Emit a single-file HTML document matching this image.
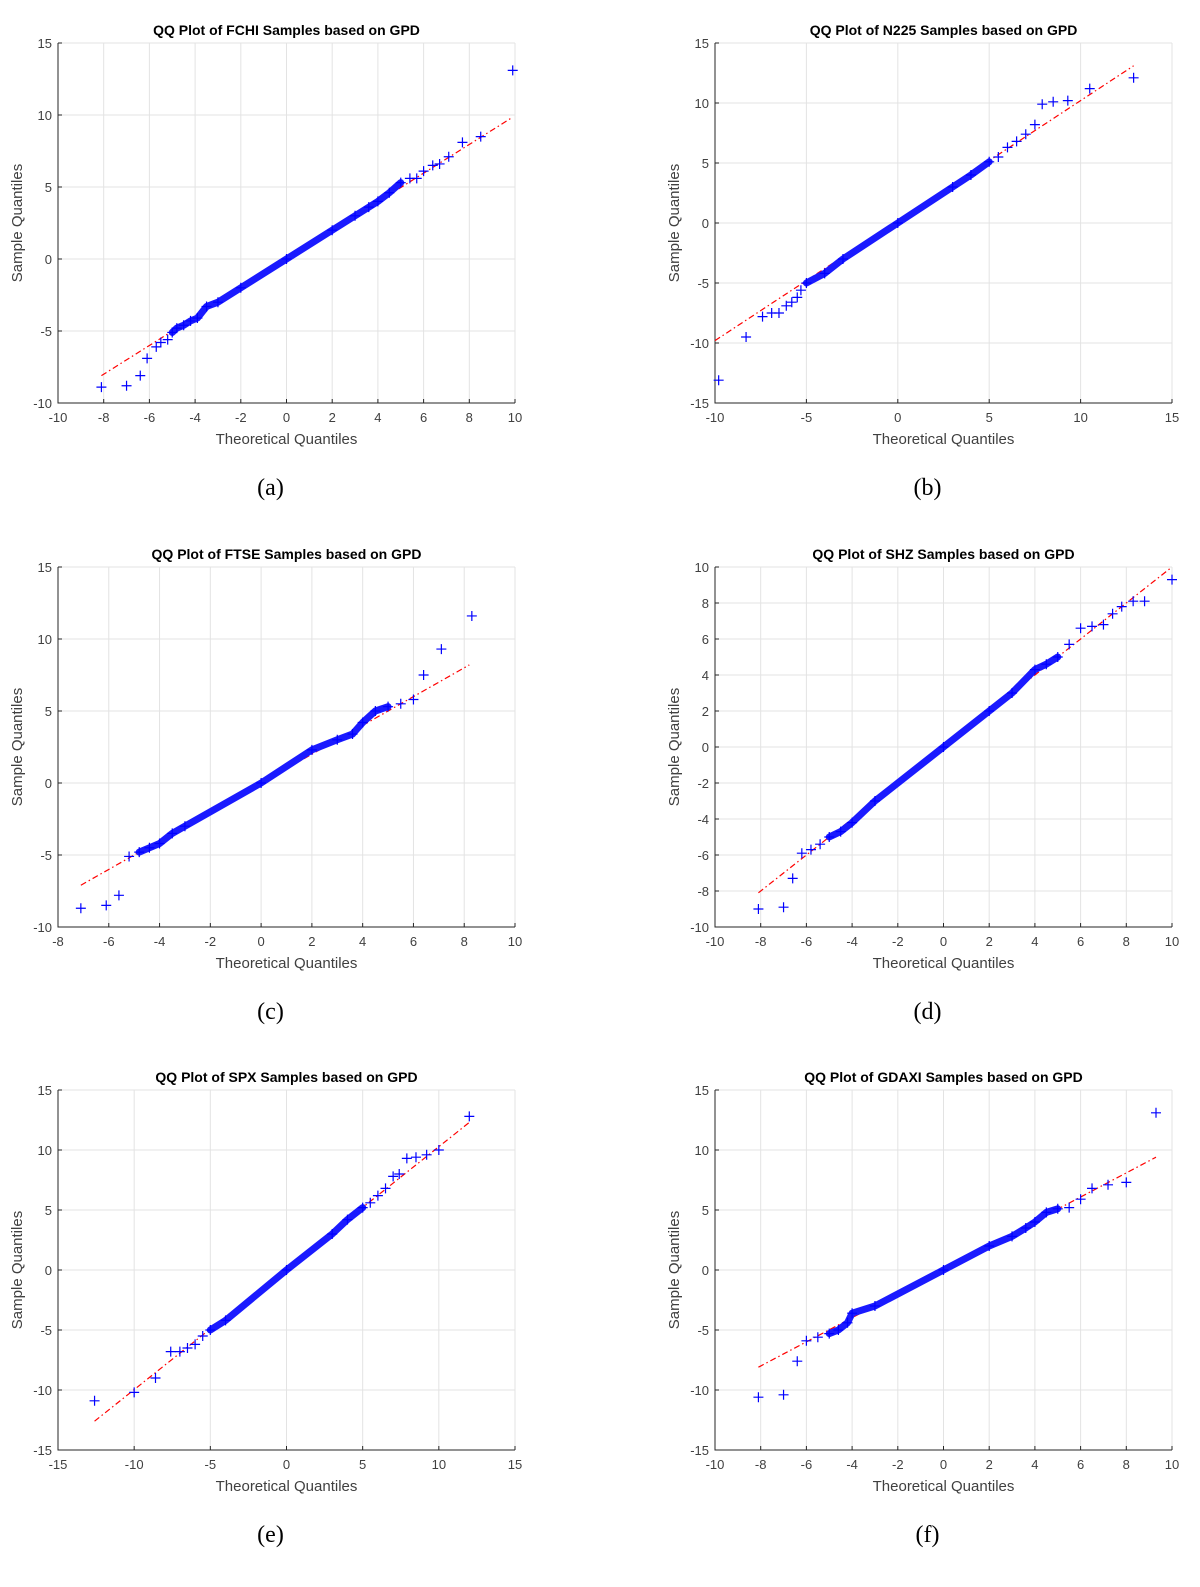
<!DOCTYPE html>
<html><head><meta charset="utf-8"><style>
body{margin:0;background:#fff;width:1200px;height:1587px;overflow:hidden}
svg{display:block}
</style></head><body>
<svg id="fig" width="1200" height="1587" font-family="'Liberation Sans', sans-serif"></svg>
<script>
const titles=["QQ Plot of FCHI Samples based on GPD","QQ Plot of N225 Samples based on GPD","QQ Plot of FTSE Samples based on GPD","QQ Plot of SHZ Samples based on GPD","QQ Plot of SPX Samples based on GPD","QQ Plot of GDAXI Samples based on GPD"];
const captions=["(a)","(b)","(c)","(d)","(e)","(f)"];
const xTicks=[[-10,-8,-6,-4,-2,0,2,4,6,8,10],[-10,-5,0,5,10,15],[-8,-6,-4,-2,0,2,4,6,8,10],[-10,-8,-6,-4,-2,0,2,4,6,8,10],[-15,-10,-5,0,5,10,15],[-10,-8,-6,-4,-2,0,2,4,6,8,10]];
const yTicks=[[-10,-5,0,5,10,15],[-15,-10,-5,0,5,10,15],[-10,-5,0,5,10,15],[-10,-8,-6,-4,-2,0,2,4,6,8,10],[-15,-10,-5,0,5,10,15],[-15,-10,-5,0,5,10,15]];
const qA=[[-8.1,-8.9],[-7,-8.8],[-6.4,-8.1],[-6.1,-6.9],[-5.7,-6.1],[-5.5,-5.8],[-5.2,-5.6],[-5,-5.1],[-4.8,-4.8],[-4.5,-4.6],[-4.2,-4.3],[-3.9,-4.1],[-3.5,-3.3],[-3,-3],[-2,-2],[0,0],[2,2],[3,3],[3.6,3.6],[4,4],[4.5,4.6],[5,5.3],[5.4,5.6],[5.7,5.6],[6,6.1],[6.4,6.5],[6.7,6.6],[7.1,7.1],[7.7,8.1],[8.5,8.5],[9.9,13.1]];
const qB=[[-9.8,-13.1],[-8.3,-9.5],[-7.4,-7.8],[-6.9,-7.5],[-6.5,-7.5],[-6.1,-6.9],[-5.8,-6.6],[-5.5,-6.2],[-5.3,-5.6],[-5,-5],[-4,-4.2],[-3,-3],[0,0],[3,3],[4,4],[5,5.1],[5.5,5.5],[6,6.3],[6.5,6.8],[7,7.4],[7.5,8.2],[7.9,9.9],[8.5,10.1],[9.3,10.2],[10.5,11.2],[12.9,12.1]];
const qC=[[-7.1,-8.7],[-6.1,-8.5],[-5.6,-7.8],[-5.2,-5.1],[-4.8,-4.8],[-4.4,-4.5],[-4,-4.2],[-3.5,-3.5],[-3,-3],[0,0],[2,2.3],[3,3],[3.6,3.4],[4,4.2],[4.5,5],[5,5.3],[5.5,5.5],[6,5.8],[6.4,7.5],[7.1,9.3],[8.3,11.6]];
const qD=[[-8.1,-9],[-7,-8.9],[-6.6,-7.3],[-6.2,-5.9],[-5.8,-5.7],[-5.4,-5.4],[-5,-5],[-4.5,-4.7],[-4,-4.2],[-3,-3],[0,0],[2,2],[3,3],[4,4.3],[4.5,4.6],[5,5],[5.5,5.7],[6,6.6],[6.5,6.7],[7,6.8],[7.4,7.4],[7.8,7.8],[8.3,8.1],[8.8,8.1],[10,9.3]];
const qE=[[-12.6,-10.9],[-10,-10.2],[-8.6,-9],[-7.6,-6.8],[-7,-6.8],[-6.5,-6.5],[-6,-6.2],[-5.5,-5.5],[-5,-5],[-4,-4.2],[0,0],[3,3],[4,4.2],[5,5.2],[5.5,5.6],[6,6.2],[6.5,6.8],[7,7.8],[7.4,8],[7.9,9.3],[8.5,9.4],[9.2,9.6],[10,10],[12,12.8]];
const qF=[[-8.1,-10.6],[-7,-10.4],[-6.4,-7.6],[-6,-5.9],[-5.5,-5.6],[-5,-5.3],[-4.6,-5],[-4.2,-4.4],[-4,-3.6],[-3,-3],[0,0],[2,2],[3,2.8],[3.6,3.5],[4,4],[4.5,4.8],[5,5.1],[5.5,5.2],[6,5.9],[6.5,6.8],[7.2,7.1],[8,7.3],[9.3,13.1]];
const series=[qA,qB,qC,qD,qE,qF];
const fitLines=[[[-8.1,-8.1],[9.9,9.85]],[[-10,-9.8],[12.9,13.1]],[[-7.1,-7.1],[8.2,8.2]],[[-8.1,-8.1],[10,10]],[[-12.6,-12.6],[12,12.3]],[[-8.1,-8.1],[9.3,9.4]]];
const NS="http://www.w3.org/2000/svg";
const svg=document.getElementById('fig');
function mk(tag,attrs,parent){const e=document.createElementNS(NS,tag);for(const k in attrs)e.setAttribute(k,attrs[k]);(parent||svg).appendChild(e);return e;}
const lefts=[58,715],tops=[43,567,1090],W=457,H=360;
for(let i=0;i<6;i++){
  const L=lefts[i%2],T=tops[Math.floor(i/2)],R=L+W,B=T+H;
  const xt=xTicks[i],yt=yTicks[i];
  const x0=xt[0],x1=xt[xt.length-1],y0=yt[0],y1=yt[yt.length-1];
  const sx=v=>L+(v-x0)/(x1-x0)*W, sy=v=>B-(v-y0)/(y1-y0)*H;
  const g=mk('g',{});
  
  
  xt.forEach(v=>{const l=mk('line',{x1:sx(v),x2:sx(v),y1:T,y2:B,stroke:'#e3e3e3','stroke-width':1},g);
    const t=mk('text',{x:sx(v),y:B+19,'text-anchor':'middle','font-size':13,fill:'#404040'},g);t.textContent=v;
    mk('line',{x1:sx(v),x2:sx(v),y1:B,y2:B-4,stroke:'#262626'},g);});
  yt.forEach(v=>{const l=mk('line',{x1:L,x2:R,y1:sy(v),y2:sy(v),stroke:'#e3e3e3','stroke-width':1},g);
    const t=mk('text',{x:L-6,y:sy(v)+5,'text-anchor':'end','font-size':13,fill:'#404040'},g);t.textContent=v;
    mk('line',{x1:L,x2:L+4,y1:sy(v),y2:sy(v),stroke:'#262626'},g);});
  const ax=mk('path',{d:`M${L},${T}V${B}H${R}`,fill:'none',stroke:'#262626','stroke-width':1},g);
  
  const tt=mk('text',{x:(L+R)/2,y:T-8,'text-anchor':'middle','font-size':14,'font-weight':'bold',fill:'#000'},g);tt.textContent=titles[i];
  
  const xl=mk('text',{x:(L+R)/2,y:B+41,'text-anchor':'middle','font-size':15,fill:'#404040'},g);xl.textContent='Theoretical Quantiles';
  
  const yl=mk('text',{x:0,y:0,transform:`translate(${L-36},${(T+B)/2}) rotate(-90)`,'text-anchor':'middle','font-size':15,fill:'#404040'},g);yl.textContent='Sample Quantiles';
  
  const f=fitLines[i];
  const fl=mk('line',{x1:sx(f[0][0]),y1:sy(f[0][1]),x2:sx(f[1][0]),y2:sy(f[1][1]),stroke:'#ff0000','stroke-width':1.2,'stroke-dasharray':'6,3,1.5,3'},g);
  
  const pts=series[i];
  const core=pts.filter(p=>Math.abs(p[0])<=5);
  const band=mk('polyline',{points:core.map(p=>sx(p[0])+','+sy(p[1])).join(' '),fill:'none',stroke:'#1a1aff','stroke-width':7,'stroke-linejoin':'round','stroke-linecap':'round'},g);
  
  pts.forEach(p=>{const X=sx(p[0]),Y=sy(p[1]);
    const m=mk('path',{d:`M${X-5},${Y}H${X+5}M${X},${Y-5}V${Y+5}`,stroke:'#0000ff','stroke-width':1.2},g);
    });
  const cp=mk('text',{x:(L+R)/2-16,y:B+92,'text-anchor':'middle','font-size':24,'font-family':"'Liberation Serif', serif",fill:'#000'},g);cp.textContent=captions[i];
  
}
</script>
</body></html>
